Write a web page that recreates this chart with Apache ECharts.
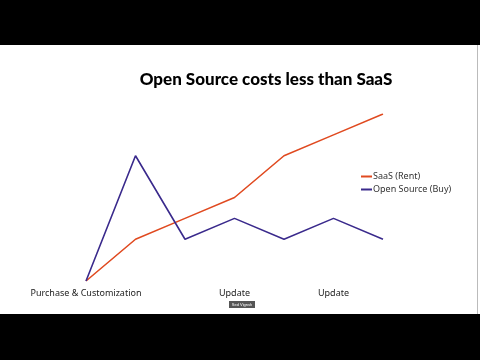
<!DOCTYPE html>
<html>
<head>
<meta charset="utf-8">
<script src="https://cdn.jsdelivr.net/npm/echarts@6/dist/echarts.min.js"></script>
<style>
html,body{margin:0;padding:0;background:#000;}
#c{width:480px;height:360px;}
</style>
</head>
<body>
<div id="c"></div>
<script>
var categories = ["Purchase & Customization", "", "", "Update", "", "Update", ""];
var saasValues = [0, 2, 3, 4, 6, 7, 8];
var openSourceValues = [0, 6, 2, 3, 2, 3, 2];
var seriesNames = ["SaaS (Rent)", "Open Source (Buy)"];

var chart = echarts.init(document.getElementById('c'));
chart.setOption({
  backgroundColor: '#000',
  animation: false,
  graphic: [
    { type: 'rect', shape: { x: 0, y: 45, width: 480, height: 269 }, style: { fill: '#fff' }, z: -10 },
    { type: 'rect', shape: { x: 477, y: 45, width: 1, height: 269 }, style: { fill: '#bbb' }, z: -9 },
    { type: 'rect', shape: { x: 229, y: 301, width: 26, height: 7 }, style: { fill: '#555' } },
    { type: 'text', x: 242, y: 304.5, style: { text: 'Sed Vignsh', fill: '#fff', font: '4px sans-serif', align: 'center', verticalAlign: 'middle' } }
  ],
  title: {
    text: 'Open Source costs less than SaaS',
    left: 261, textAlign: 'center', top: 66,
    textStyle: { fontFamily: 'Lato', fontWeight: 900, fontSize: 17, color: '#000' }
  },
  legend: {
    data: seriesNames,
    orient: 'vertical',
    left: 356, top: 167,
    itemWidth: 11, itemHeight: 2, itemGap: 4,
    icon: 'rect',
    textStyle: { fontFamily: 'Noto Sans', fontSize: 9, color: '#333', padding: [0, 0, 0, -4] }
  },
  grid: { left: 86, right: 97, top: 114, bottom: 79, containLabel: false },
  xAxis: {
    type: 'category', data: categories, boundaryGap: false,
    axisLine: { show: false }, axisTick: { show: false }, splitLine: { show: false },
    axisLabel: { interval: 0, margin: 8, fontFamily: 'Noto Sans', fontSize: 9, color: '#222' }
  },
  yAxis: {
    type: 'value', min: 0, max: 8, interval: 1,
    axisLine: { show: false }, axisTick: { show: false }, splitLine: { show: false }, axisLabel: { show: false }
  },
  series: [
    { name: seriesNames[0], type: 'line', data: saasValues, symbol: 'none', lineStyle: { color: '#e04a20', width: 1.6 }, itemStyle: { color: '#e04a20' } },
    { name: seriesNames[1], type: 'line', data: openSourceValues, symbol: 'none', lineStyle: { color: '#3a2a8c', width: 1.6 }, itemStyle: { color: '#3a2a8c' } }
  ]
});
</script>
</body>
</html>
